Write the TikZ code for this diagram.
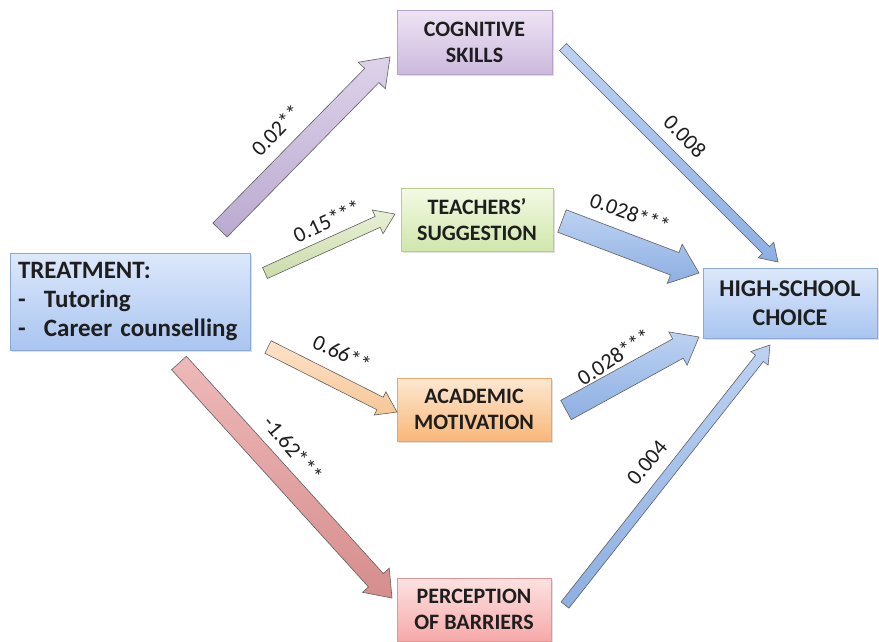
\documentclass[tikz,border=0pt]{standalone}
\usepackage{fontspec}
\setmainfont{Carlito}
\usetikzlibrary{calc,shadows}

\definecolor{bluetop}{HTML}{DDE8FB}
\definecolor{bluebot}{HTML}{A9C5F0}
\definecolor{blueline}{HTML}{8AA8D8}
\definecolor{purptop}{HTML}{EEE4F4}
\definecolor{purpbot}{HTML}{CDB9DE}
\definecolor{purpline}{HTML}{B7A2CB}
\definecolor{greentop}{HTML}{F3F9E4}
\definecolor{greenbot}{HTML}{D0E6AB}
\definecolor{greenline}{HTML}{B5D08C}
\definecolor{orangetop}{HTML}{FDE8D2}
\definecolor{orangebot}{HTML}{F9B778}
\definecolor{orangeline}{HTML}{E8A66A}
\definecolor{pinktop}{HTML}{FDE2E2}
\definecolor{pinkbot}{HTML}{F6A9A9}
\definecolor{pinkline}{HTML}{E19696}
\definecolor{inktext}{HTML}{1E1E1E}
% arrow fills
\definecolor{arrblue1}{HTML}{BDD2F2}
\definecolor{arrblue2}{HTML}{8DAFE2}
\definecolor{arrpurp1}{HTML}{DDD2EA}
\definecolor{arrpurp2}{HTML}{BBAAD0}
\definecolor{arrgreen1}{HTML}{E8F0D6}
\definecolor{arrgreen2}{HTML}{CBDCAA}
\definecolor{arrorange1}{HTML}{FDE3C9}
\definecolor{arrorange2}{HTML}{F6C697}
\definecolor{arrred1}{HTML}{EEB9B9}
\definecolor{arrred2}{HTML}{D68D8D}

% block arrow: #1 style, #2 tail, #3 tip, #4 half shaft, #5 half head, #6 head length
\newcommand{\blockarrow}[6]{%
  \coordinate (ba-neck) at ($(#3)!#6!(#2)$);
  \draw[#1] ($(#2)!#4!90:(#3)$) -- ($(ba-neck)!#4!-90:(#2)$)
    -- ($(ba-neck)!#5!-90:(#2)$) -- (#3)
    -- ($(ba-neck)!#5!90:(#2)$) -- ($(ba-neck)!#4!90:(#2)$)
    -- ($(#2)!#4!-90:(#3)$) -- cycle;
}

\begin{document}
\begin{tikzpicture}[
  x=1pt,
  y=-1pt,
  font=\fontsize{22}{26}\selectfont,
  box/.style={draw, line width=0.6pt, align=center, text=inktext,
    font=\fontsize{22}{26}\selectfont\bfseries,
    drop shadow={opacity=0.25, shadow xshift=1.5pt, shadow yshift=-1.5pt}},
  bluebox/.style={box, draw=blueline, top color=bluetop, bottom color=bluebot},
  purpbox/.style={box, draw=purpline, top color=purptop, bottom color=purpbot},
  greenbox/.style={box, draw=greenline, top color=greentop, bottom color=greenbot},
  orangebox/.style={box, draw=orangeline, top color=orangetop, bottom color=orangebot},
  pinkbox/.style={box, draw=pinkline, top color=pinktop, bottom color=pinkbot},
  barrow/.style={draw=black!62, line width=0.6pt},
  lbl/.style={text=inktext, inner sep=1pt}
]

% White background
\useasboundingbox (0,0) rectangle (879,641);
\clip (0,0) rectangle (879,641);
\fill[white] (0,0) rectangle (879,641);

% Boxes
\node[bluebox, minimum width=240pt, minimum height=97pt, text width=224pt, align=left,
  font=\fontsize{25}{29}\selectfont\bfseries] (treat) at (130,301.5)
  {TREATMENT:\\ \makebox[26pt][l]{-}Tutoring\\ \makebox[26pt][l]{-}Career counselling};
\node[purpbox, minimum width=155pt, minimum height=64pt] (cog) at (474.5,42) {COGNITIVE\\SKILLS};
\node[greenbox, minimum width=152pt, minimum height=63pt] (teach) at (477,220) {TEACHERS'\\SUGGESTION};
\node[orangebox, minimum width=154pt, minimum height=63pt] (acad) at (474,409.5) {ACADEMIC\\MOTIVATION};
\node[pinkbox, minimum width=154pt, minimum height=63pt] (perc) at (474,609.5) {PERCEPTION\\OF BARRIERS};
\node[bluebox, minimum width=174pt, minimum height=70pt,
  font=\fontsize{24}{29}\selectfont\bfseries] (high) at (790,303) {HIGH-SCHOOL\\CHOICE};

% Arrow ends
\coordinate (cog-tail) at (220,230);   \coordinate (cog-tip) at (390,57);
\coordinate (teach-tail) at (265,273); \coordinate (teach-tip) at (395,214);
\coordinate (acad-tail) at (268,347);  \coordinate (acad-tip) at (397,412);
\coordinate (perc-tail) at (179,363);  \coordinate (perc-tip) at (392,598);
\coordinate (hc-tail) at (563,47);     \coordinate (hc-tip) at (778,262);
\coordinate (ht-tail) at (562,221);    \coordinate (ht-tip) at (699,273);
\coordinate (ha-tail) at (566,410);    \coordinate (ha-tip) at (699,337);
\coordinate (hp-tail) at (565,605);    \coordinate (hp-tip) at (770,345);

% Treatment arrows
\blockarrow{barrow, top color=arrpurp1, bottom color=arrpurp2}{cog-tail}{cog-tip}{10pt}{19pt}{26pt}
\blockarrow{barrow, top color=arrgreen1, bottom color=arrgreen2}{teach-tail}{teach-tip}{6pt}{13pt}{19pt}
\blockarrow{barrow, top color=arrorange1, bottom color=arrorange2}{acad-tail}{acad-tip}{7pt}{13pt}{19pt}
\blockarrow{barrow, top color=arrred1, bottom color=arrred2}{perc-tail}{perc-tip}{10pt}{18pt}{24pt}

% Arrows to high-school choice
\blockarrow{barrow, top color=arrblue1, bottom color=arrblue2}{hc-tail}{hc-tip}{5pt}{11pt}{17pt}
\blockarrow{barrow, top color=arrblue1, bottom color=arrblue2}{ht-tail}{ht-tip}{12pt}{21pt}{26pt}
\blockarrow{barrow, top color=arrblue1, bottom color=arrblue2}{ha-tail}{ha-tip}{11pt}{19pt}{24pt}
\blockarrow{barrow, top color=arrblue1, bottom color=arrblue2}{hp-tail}{hp-tip}{5pt}{11pt}{17pt}

% Labels
\node[lbl, rotate=46] (l-cog) at (276,130) {0.02**};
\node[lbl, rotate=25] (l-teach) at (327,221) {0.15***};
\node[lbl, rotate=-25] (l-acad) at (342,353) {0.66**};
\node[lbl, rotate=-50] (l-perc) at (293,449) {-1.62***};
\node[lbl, rotate=-46] (l-hc) at (685,136) {0.008};
\node[lbl, rotate=-20] (l-ht) at (630,213) {0.028***};
\node[lbl, rotate=33] (l-ha) at (614,357) {0.028***};
\node[lbl, rotate=50] (l-hp) at (647,463) {0.004};

\end{tikzpicture}
\end{document}
